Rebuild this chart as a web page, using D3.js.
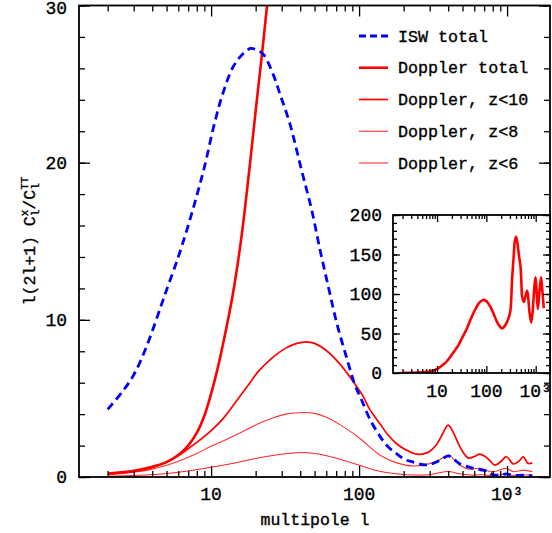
<!DOCTYPE html>
<html><head><meta charset="utf-8">
<script src="https://cdn.jsdelivr.net/npm/d3@7"></script>
<style>
html,body{margin:0;padding:0;background:#fff;}
svg{display:block;}
text{font-family:"Liberation Mono",monospace;fill:#000;stroke:#000;stroke-width:0.35px;}
</style></head>
<body><svg id="c" width="552" height="533"></svg>
<script>
// ---- data ----
const iswL = [2,2.5,3,3.66,4.75,5,6,7,8,9,10.6,12,14.1,16.5,18.5,20,22.5,26.3,29.1,34,40.9,47.8,54.6,62,70.6,82,93.8,104,118,138,156,178,205,232,270,300,350,400,440,478,590,700,760,800,900,990,1100,1290,1480];
const iswV = [4.3,5.4,6.5,8.3,11.3,11.9,14.0,16.0,17.9,19.7,22.6,24.4,26.1,26.95,27.27,27.2,26.9,25.6,24.4,22.5,19.5,17.0,14.4,12.1,9.8,7.65,5.85,4.9,3.7,2.6,1.95,1.5,1.1,0.95,0.78,0.8,1.05,1.35,1.1,0.85,0.55,0.42,0.3,0.15,0.12,0.2,0.1,0.12,0.08];

const totL = [2,3,4,5,6,7,8,9,10,11,12,14,16,18,20,22,24,27,32,40,48,60,72,86,100,120,140,170,209,250,290,309,332,360,380,400,425,455,492,515,530,574,620,670,700,740,807,860,930,990,1040,1102,1180,1286,1360,1457];
const totV = [0.22,0.4,0.65,0.95,1.4,2.0,2.8,3.9,5.3,6.8,8.4,11.6,15.2,19.3,23.3,26.8,30.2,35,44,56,68,81,89,92.5,91,84,75,63,56.6,62,72,80,118,150,168,172.5,165,150,135,112,97,90,97,104,98,80,64,75,105,121,105,81,100,121,105,82];

const z10L = [2,3,4,5,6,7,8,10,12,15,18,21,26,32,38,44,50,60,74,94,107,118,138,156,180,205,245,290,330,360,400,440,478,520,550,600,655,710,765,825,900,990,1100,1200,1290,1380,1480];
const z10V = [0.18,0.35,0.6,0.95,1.35,1.8,2.2,2.95,3.7,4.9,5.9,6.75,7.6,8.2,8.5,8.6,8.5,8.05,7.2,5.9,5.1,4.3,3.4,2.7,2.1,1.75,1.45,1.55,2.0,2.6,3.3,2.7,1.95,1.4,1.2,1.3,1.46,1.3,1.04,0.76,0.95,1.29,0.83,1.0,1.29,0.87,0.9];

const z8L = [2,3,4,5,6,8,10,12.8,16,21,27,32,42,50,60,75,100,138,180,232,300,350,400,440,478,550,655,765,850,990,1100,1290,1480];
const z8V = [0.14,0.3,0.5,0.75,1.0,1.5,1.95,2.4,2.85,3.4,3.8,4.0,4.1,4.05,3.8,3.3,2.5,1.4,0.9,0.7,0.85,1.1,1.4,1.1,0.76,0.5,0.55,0.34,0.38,0.55,0.34,0.44,0.34];

const z6L = [2,4,6,10,15,20,30,40,50,70,100,138,200,250,300,400,480,600,680,800,990,1100,1290,1480];
const z6V = [0.05,0.15,0.3,0.62,0.92,1.18,1.45,1.55,1.5,1.2,0.75,0.36,0.16,0.12,0.15,0.35,0.2,0.12,0.15,0.08,0.18,0.1,0.14,0.1];

const yTicksMain = [0,10,20,30];
const yTicksInset = [0,50,100,150,200];
const xTickLabels = [[10,"10"],[100,"100"],[1000,"10³"]];
const legendNames = ["ISW total","Doppler total","Doppler, z<10","Doppler, z<8","Doppler, z<6"];

// ---- layout ----
const svg = d3.select("#c");
const lDomain = [1.28, 1950];
const x = d3.scaleLog().domain(lDomain).range([79, 550]);
const y = d3.scaleLinear().domain([0, 30]).range([477, 5.5]);
const xi = d3.scaleLog().domain(lDomain).range([393, 550]);
const yi = d3.scaleLinear().domain([0, 200]).range([373, 215]);

const styles = [
  {stroke:"#0000ff", w:2.8, dash:"8,5", ldash:"7,4"},
  {stroke:"#ff0000", w:2.6},
  {stroke:"#ff0000", w:1.7},
  {stroke:"#ff3030", w:1.1},
  {stroke:"#ff0000", w:0.9}
];
const series = [[iswL,iswV],[totL,totV],[z10L,z10V],[z8L,z8V],[z6L,z6V]];

function logTicks(dom){
  const maj=[],min=[];
  for(let k=0;k<=4;k++) for(let m=1;m<=9;m++){
    const v=m*Math.pow(10,k);
    if(v>=dom[0]&&v<=dom[1]) (m===1?maj:min).push(v);
  }
  return {maj,min};
}
const lt = logTicks(lDomain);
function range(a,b,s){const r=[];for(let v=a;v<=b+1e-9;v+=s)r.push(v);return r;}

function drawAxes(g, xs, ys, majX, minX, majY, minY, tMaj, tMin){
  const [x0,x1]=xs.range(), [y0,y1]=ys.range();
  const mk=(axisFn,scale,vals,size,tr)=>{
    const a=g.append("g").attr("transform",tr)
      .call(axisFn(scale).tickValues(vals).tickSize(size).tickFormat(""));
    a.select(".domain").remove();
    a.selectAll("line").attr("stroke","#000").attr("stroke-width",1.3);
  };
  mk(d3.axisBottom,xs,majX,-tMaj,`translate(0,${y0})`);
  mk(d3.axisBottom,xs,minX,-tMin,`translate(0,${y0})`);
  mk(d3.axisTop,xs,majX,-tMaj,`translate(0,${y1})`);
  mk(d3.axisTop,xs,minX,-tMin,`translate(0,${y1})`);
  mk(d3.axisLeft,ys,majY,-tMaj,`translate(${x0},0)`);
  mk(d3.axisLeft,ys,minY,-tMin,`translate(${x0},0)`);
  mk(d3.axisRight,ys,majY,-tMaj,`translate(${x1},0)`);
  mk(d3.axisRight,ys,minY,-tMin,`translate(${x1},0)`);
  g.append("rect").attr("x",x0).attr("y",y1).attr("width",x1-x0).attr("height",y0-y1)
    .attr("fill","none").attr("stroke","#000").attr("stroke-width",1.8);
}

svg.append("clipPath").attr("id","mclip").append("rect")
  .attr("x",79).attr("y",5.5).attr("width",471).attr("height",471.5);
svg.append("clipPath").attr("id","iclip").append("rect")
  .attr("x",393).attr("y",215).attr("width",157).attr("height",158);

const main = svg.append("g");
const curves = main.append("g").attr("clip-path","url(#mclip)");
[4,3,2,1,0].forEach(i=>{
  const [L,V]=series[i], s=styles[i];
  const line = d3.line().x((d,j)=>x(L[j])).y(d=>y(d)).curve(d3.curveCatmullRom.alpha(0.5));
  curves.append("path").attr("d",line(V)).attr("fill","none")
    .attr("stroke",s.stroke).attr("stroke-width",s.w)
    .attr("stroke-dasharray",s.dash||null).attr("stroke-linejoin","round");
});
drawAxes(main, x, y, lt.maj, lt.min, range(0,30,10), range(0,30,2), 11, 6);

// main tick labels (top one kept inside the page)
main.selectAll("text.yl").data(yTicksMain).enter().append("text")
  .attr("x",67).attr("y",d=>Math.max(y(d),7.5)).attr("text-anchor","end").attr("dy","0.36em")
  .style("font-size","18px").text(d=>d);
main.selectAll("text.xl").data(xTickLabels).enter().append("text")
  .attr("x",d=>x(d[0])).attr("y",500).attr("text-anchor","middle")
  .style("font-size","18px").text(d=>d[1]);
main.append("text").attr("x",315).attr("y",525).attr("text-anchor","middle")
  .style("font-size","16.5px").text("multipole l");

// y label
const yl = main.append("text").attr("transform","translate(35,241) rotate(-90)")
  .attr("text-anchor","middle").style("font-size","16.5px");
yl.append("tspan").text("l(2l+1)  C");
yl.append("tspan").attr("dy",4).style("font-size","11px").text("l");
yl.append("tspan").attr("dx",-6.6).attr("dy",-11).style("font-size","11px").text("x");
yl.append("tspan").attr("dy",7).text("/C");
yl.append("tspan").attr("dy",4).style("font-size","11px").text("l");
yl.append("tspan").attr("dx",-6.6).attr("dy",-11).style("font-size","11px").text("TT");

// legend
const legY = d3.scaleLinear().domain([0,4]).range([36,163]);
legendNames.forEach((n,i)=>{
  const s=styles[i];
  main.append("line").attr("x1",359).attr("x2",388).attr("y1",legY(i)).attr("y2",legY(i))
    .attr("stroke",s.stroke).attr("stroke-width",s.w).attr("stroke-dasharray",s.ldash||null);
  main.append("text").attr("x",398).attr("y",legY(i)).attr("dy","0.33em")
    .style("font-size","16.7px").text(n);
});

// inset
const inset = svg.append("g");
inset.append("rect").attr("x",393).attr("y",215).attr("width",157).attr("height",158).attr("fill","#fff");
const icurves = inset.append("g").attr("clip-path","url(#iclip)");
const iline = d3.line().x((d,j)=>xi(totL[j])).y(d=>yi(d)).curve(d3.curveCatmullRom.alpha(0.5));
icurves.append("path").attr("d",iline(totV)).attr("fill","none")
  .attr("stroke","#ff0000").attr("stroke-width",2.6).attr("stroke-linejoin","round");
drawAxes(inset, xi, yi, lt.maj, lt.min, range(0,200,50), range(0,200,10), 7, 4);
inset.selectAll("text.iy").data(yTicksInset).enter().append("text")
  .attr("x",382).attr("y",d=>yi(d)).attr("text-anchor","end").attr("dy","0.36em")
  .style("font-size","18px").text(d=>d);
inset.selectAll("text.ix").data(xTickLabels).enter().append("text")
  .attr("x",d=>xi(d[0])).attr("y",397).attr("text-anchor","middle")
  .style("font-size","18px").text(d=>d[1]);
</script></body></html>
